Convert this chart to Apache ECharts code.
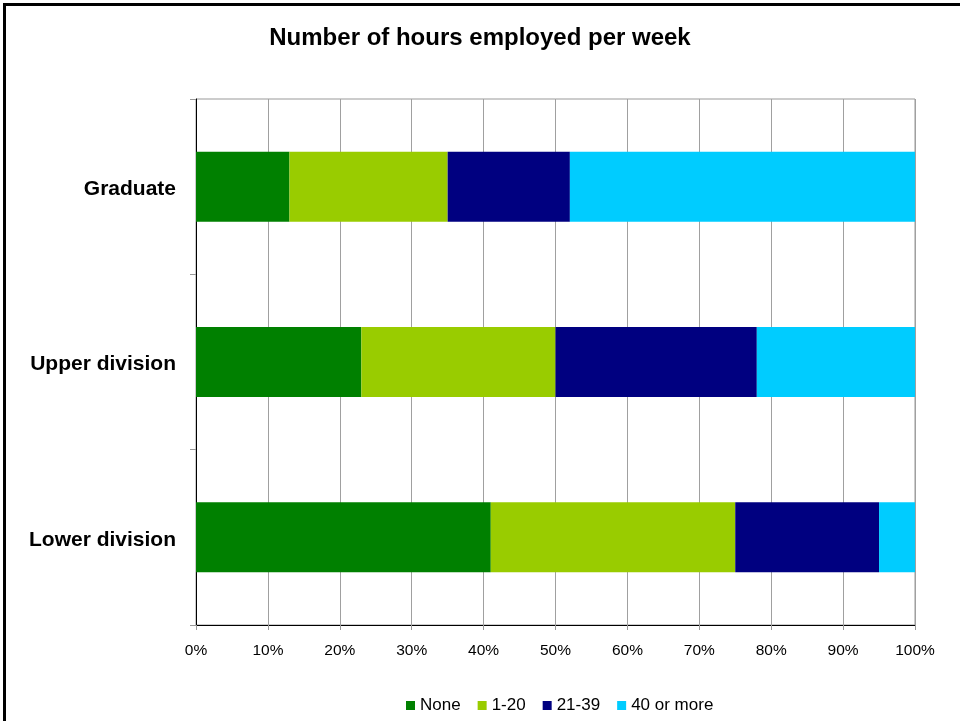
<!DOCTYPE html>
<html>
<head>
<meta charset="utf-8">
<script src="https://cdn.jsdelivr.net/npm/echarts@6/dist/echarts.min.js"></script>
<style>
  html, body { margin: 0; padding: 0; background: #fff; }
  #frame {
    position: absolute; left: 3px; top: 3px; width: 960px; height: 715px;
    border-left: 3px solid #000; border-top: 3px solid #000; border-bottom: 1px solid #999;
  }
  #graph { position: absolute; left: 0; top: 0; width: 960px; height: 721px; }
</style>
</head>
<body>
<div id="frame"></div>
<div id="graph"></div>
<script>
/* 类别（自下而上） */
var categories = ['Lower division', 'Upper division', 'Graduate'];
/* 各段百分比 */
var hoursNone = [41, 23, 13];
var hours1to20 = [34, 27, 22];
var hours21to39 = [20, 28, 17];
var hours40plus = [5, 22, 48];
var seriesNames = ['None', '1-20', '21-39', '40 or more'];
var seriesColors = ['#008000', '#99cc00', '#000080', '#00ccff'];
var xTicks = [0, 10, 20, 30, 40, 50, 60, 70, 80, 90, 100];

var myChart = echarts.init(document.getElementById('graph'));

var seriesData = [hoursNone, hours1to20, hours21to39, hours40plus];
var series = [];
for (var i in seriesData) {
  series.push({
    name: seriesNames[i],
    type: 'bar',
    stack: 'total',
    barWidth: 70,
    data: seriesData[i],
    itemStyle: { color: seriesColors[i] }
  });
}

var option = {
  animation: false,
  title: {
    text: 'Number of hours employed per week',
    left: 'center',
    top: 21,
    textStyle: {
      fontFamily: 'Liberation Sans, Arial, sans-serif',
      fontSize: 24,
      fontWeight: 'bold',
      color: '#000'
    }
  },
  legend: {
    top: 692,
    left: 401,
    itemWidth: 9,
    itemHeight: 9,
    itemGap: 17,
    icon: 'rect',
    data: seriesNames,
    textStyle: {
      fontFamily: 'Liberation Sans, Arial, sans-serif',
      fontSize: 17,
      color: '#000'
    }
  },
  grid: {
    left: 196,
    right: 45,
    top: 99,
    bottom: 96,
    show: true,
    borderColor: '#999',
    borderWidth: 1
  },
  xAxis: {
    type: 'value',
    min: xTicks[0],
    max: xTicks[xTicks.length - 1],
    interval: 10,
    axisLine: { show: true, lineStyle: { color: '#000', width: 1 } },
    axisTick: { show: true, length: 5, lineStyle: { color: '#999' } },
    splitLine: { show: true, lineStyle: { color: '#a0a0a0', width: 1 } },
    axisLabel: {
      formatter: '{value}%',
      margin: 18,
      fontFamily: 'Liberation Sans, Arial, sans-serif',
      fontSize: 15.5,
      color: '#000'
    }
  },
  yAxis: {
    type: 'category',
    data: categories,
    axisLine: { show: true, lineStyle: { color: '#000', width: 1 } },
    axisTick: { show: true, length: 6, lineStyle: { color: '#999' } },
    splitLine: { show: false },
    axisLabel: {
      margin: 20,
      formatter: '{c|{value}}',
      rich: {
        c: {
          padding: [5, 0, 0, 0],
          fontFamily: 'Liberation Sans, Arial, sans-serif',
          fontSize: 21,
          fontWeight: 'bold',
          color: '#000'
        }
      }
    }
  },
  series: series
};

myChart.setOption(option);
</script>
</body>
</html>
